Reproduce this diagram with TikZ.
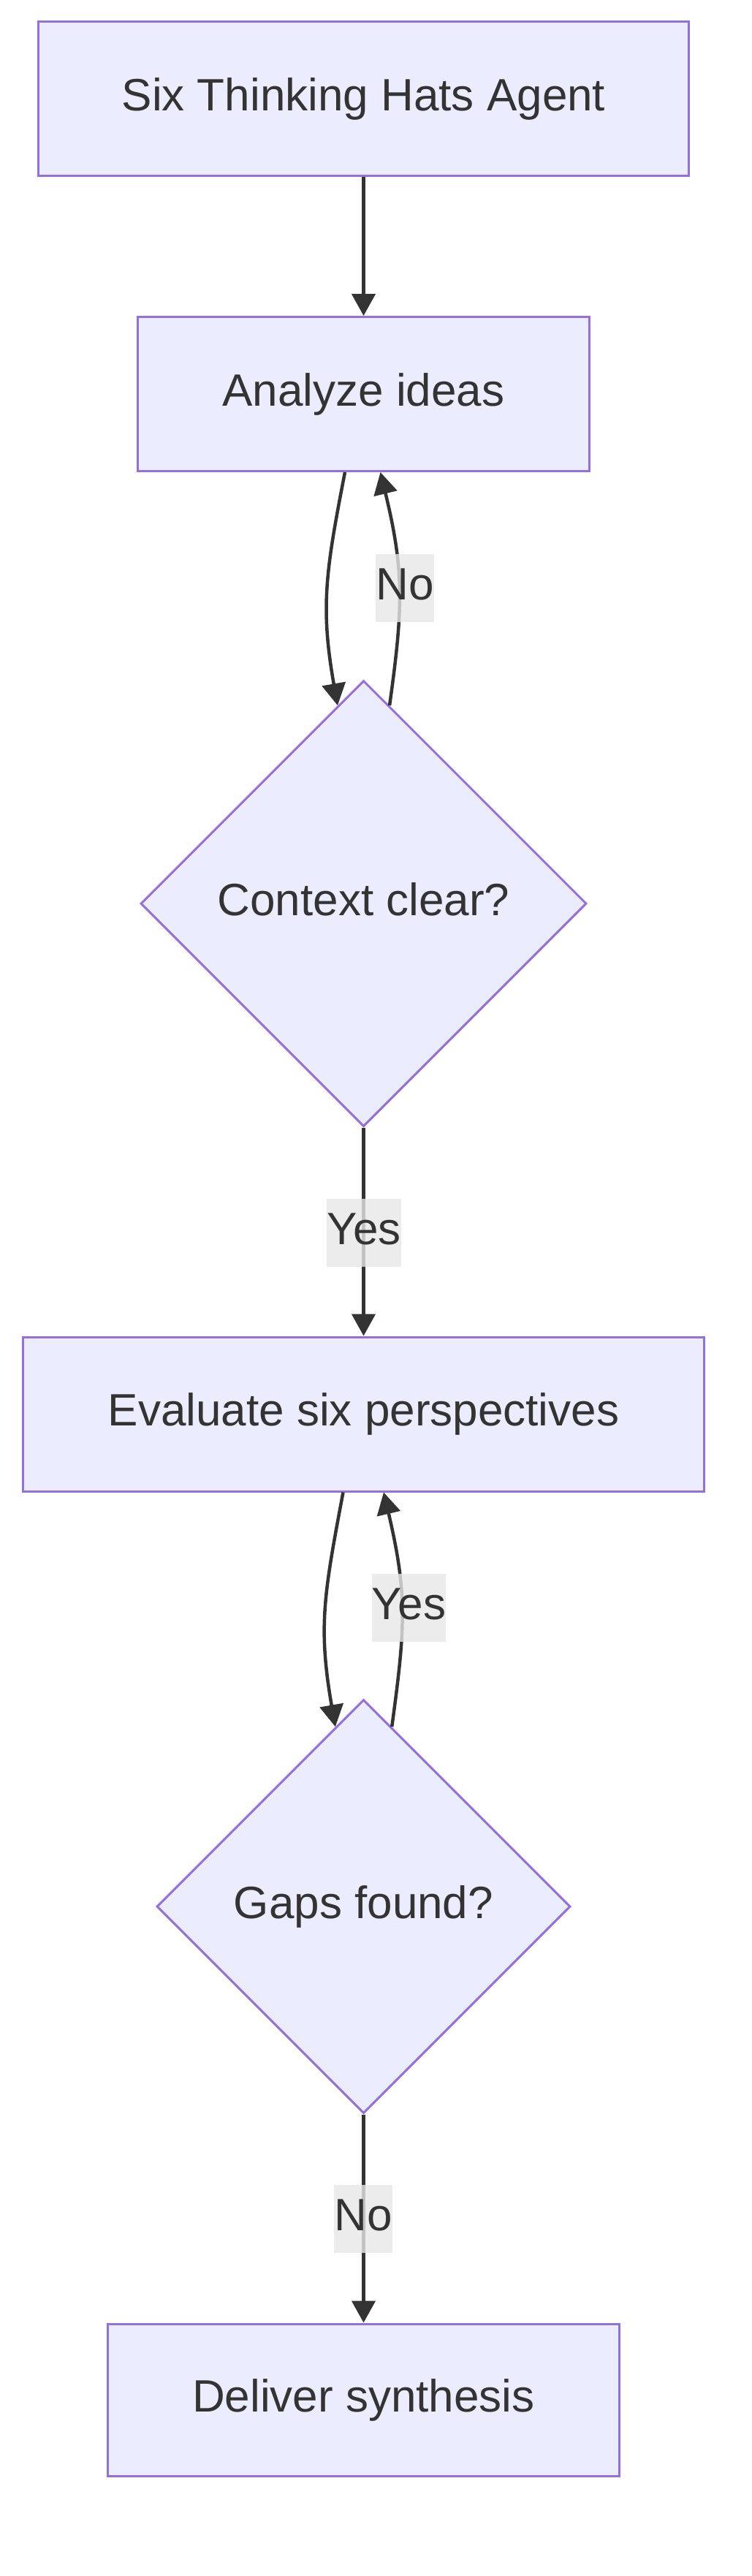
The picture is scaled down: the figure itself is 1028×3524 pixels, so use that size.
\documentclass[tikz,border=0pt]{standalone}
\usepackage{fontspec}
\setmainfont{Liberation Sans}
\usetikzlibrary{shapes.geometric,arrows.meta,calc}
\definecolor{nodefill}{HTML}{ECECFF}
\definecolor{nodeline}{HTML}{9370DB}
\definecolor{txt}{HTML}{333333}
\definecolor{edge}{HTML}{333333}
\definecolor{lblbg}{HTML}{E8E8E8}
\begin{document}
\begin{tikzpicture}[x=1pt,y=-1pt,
  every node/.style={font=\fontsize{62}{74}\selectfont, text=txt, text height=45pt, text depth=13pt},
  procbox/.style={rectangle, draw=nodeline, fill=nodefill, line width=3pt, inner sep=0pt, minimum height=211pt},
  decision/.style={diamond, aspect=1, draw=nodeline, fill=nodefill, line width=3pt, inner sep=0pt},
  arr/.style={draw=edge, line width=4.5pt, -{Triangle[length=30pt,width=32pt]}},
  lbl/.style={fill=lblbg, fill opacity=0.8, text opacity=1, inner sep=0pt, minimum height=93pt}
]
\useasboundingbox (0,0) rectangle (1028,3524);
\fill[white] (0,0) rectangle (1028,3524);

\node[procbox, minimum width=890pt] (start) at (497.5,135.5) {Six Thinking Hats Agent};
\node[procbox, minimum width=618pt] (analyze) at (497.5,539) {Analyze ideas};
\node[decision, minimum width=610pt, minimum height=610pt] (ctx) at (497.5,1236) {Context clear?};
\node[procbox, minimum width=932pt] (evaluate) at (497.5,1934.5) {Evaluate six perspectives};
\node[decision, minimum width=566pt, minimum height=566pt] (gaps) at (497.5,2608) {Gaps found?};
\node[procbox, minimum width=700pt, minimum height=208pt] (deliver) at (497.5,3283) {Deliver synthesis};

% anchor points for curved connectors
\coordinate (a1) at ([xshift=-25.5pt]analyze.south);
\coordinate (a2) at ([xshift=23pt]analyze.south);
\coordinate (c1) at ($(ctx.north)!0.116!(ctx.west)$);
\coordinate (c2) at ($(ctx.north)!0.116!(ctx.east)$);
\coordinate (e1) at ([xshift=-28pt]evaluate.south);
\coordinate (e2) at ([xshift=27.5pt]evaluate.south);
\coordinate (g1) at ($(gaps.north)!0.136!(gaps.west)$);
\coordinate (g2) at ($(gaps.north)!0.136!(gaps.east)$);

\draw[arr] (start.south) -- (analyze.north);

\draw[arr] (a1) .. controls (446,780) and (438,830) .. (c1);
\draw[arr] (c2) .. controls (552,830) and (553,780) .. (a2);

\draw[arr] (ctx.south) -- (evaluate.north);

\draw[arr] (e1) .. controls (443.5,2180) and (435,2225) .. (g1);
\draw[arr] (g2) .. controls (555,2225) and (557.5,2180) .. (e2);

\draw[arr] (gaps.south) -- (deliver.north);

\node[lbl] (lno1) at (554,804) {No};
\node[lbl] (lyes1) at (498,1686) {Yes};
\node[lbl] (lyes2) at (559.5,2199.5) {Yes};
\node[lbl] (lno2) at (497,3035) {No};
\end{tikzpicture}
\end{document}
